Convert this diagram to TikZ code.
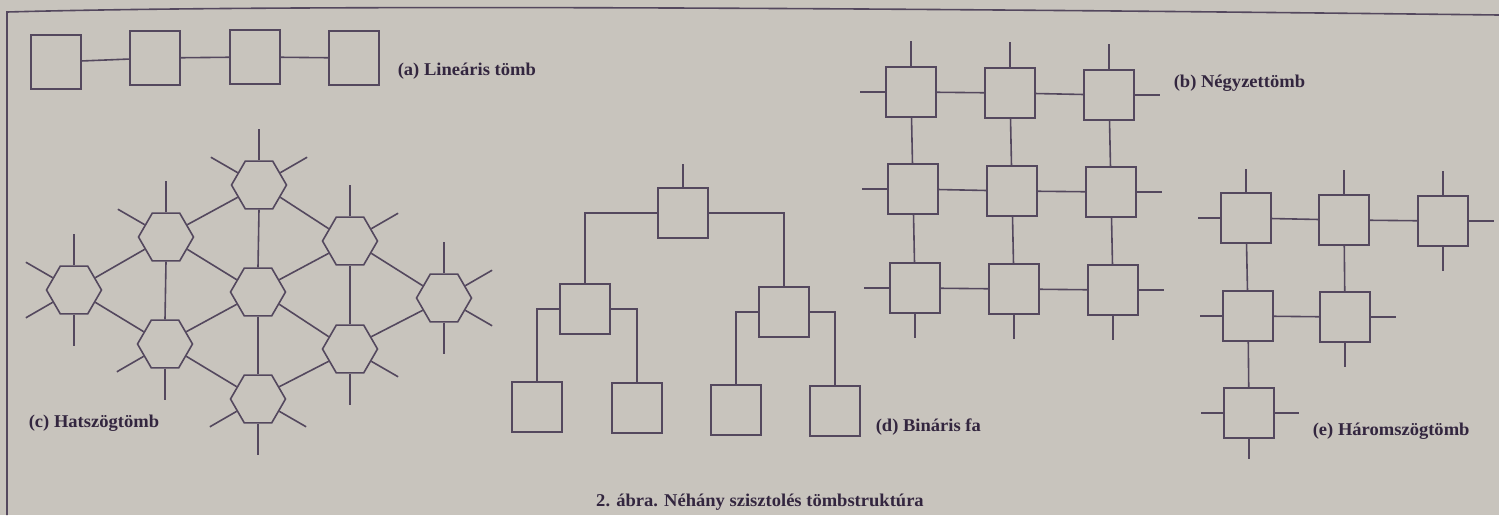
\documentclass[tikz,border=0pt]{standalone}
\usepackage{fontspec}
\setmainfont{Liberation Serif}
\usetikzlibrary{shapes.geometric}
\definecolor{paper}{HTML}{C8C4BD}
\definecolor{ink}{HTML}{54485E}
\definecolor{txt}{HTML}{33263F}
\newcommand{\lab}[1]{\scalebox{1.03}[1]{#1}}
\tikzset{
  sq/.style={draw=ink, line width=1.6pt, minimum width=50pt, minimum height=50pt, inner sep=0pt},
  sqa/.style={sq, minimum height=54pt},
  hex/.style={draw=ink, line width=1.6pt, regular polygon, regular polygon sides=6, minimum size=55pt, inner sep=0pt},
  lbl/.style={anchor=west, inner sep=0pt, text=txt, font=\bfseries\fontsize{18}{20}\selectfont},
  captext/.style={inner sep=0pt, text=txt, font=\bfseries\fontsize{18}{20}\selectfont}
}
\begin{document}
\begin{tikzpicture}[x=1pt, y=-1pt, color=ink, line width=1.6pt]
\fill[paper] (0,0) rectangle (1499,515);
\useasboundingbox (0,0) rectangle (1499,515);
% frame
\draw (7,515) -- (7,12) .. controls (300,4) and (900,8) .. (1499,15);

% (a) linear array
\node[sqa] (a1) at (56,62) {};
\node[sqa] (a2) at (155,58) {};
\node[sqa] (a3) at (255,57) {};
\node[sqa] (a4) at (354,58) {};
\draw (a1) -- (a2) (a2) -- (a3) (a3) -- (a4);
\node[lbl] (la) at (397,71) {\lab{(a) Lineáris tömb}};

% (c) hexagonal array
\node[hex] (T)  at (259,185) {};
\node[hex] (UL) at (166,237) {};
\node[hex] (UR) at (350,241) {};
\node[hex] (L)  at (74,290) {};
\node[hex] (C)  at (258,292) {};
\node[hex] (R)  at (444,298) {};
\node[hex] (LL) at (165,344) {};
\node[hex] (LR) at (350,349) {};
\node[hex] (B)  at (258,399) {};
\draw (T.210) -- (UL.30);
\draw (T.330) -- (UR.150);
\draw (T.270) -- (C.90);
\draw (UL.210) -- (L.30);
\draw (UL.330) -- (C.150);
\draw (UL.270) -- (LL.90);
\draw (UR.210) -- (C.30);
\draw (UR.330) -- (R.150);
\draw (UR.270) -- (LR.90);
\draw (L.330) -- (LL.150);
\draw (C.210) -- (LL.30);
\draw (C.330) -- (LR.150);
\draw (C.270) -- (B.90);
\draw (R.210) -- (LR.30);
\draw (LL.330) -- (B.150);
\draw (LR.210) -- (B.30);
\foreach \n/\a in {T/90,T/30,T/150,UL/90,UL/150,UR/90,UR/30,L/90,L/150,L/210,L/270,R/90,R/30,R/330,R/270,LL/210,LL/270,LR/330,LR/270,B/210,B/270,B/330}
  \draw (\n.\a) -- ++(\a:31pt);
\node[lbl] (lc) at (28,423) {\lab{(c) Hatszögtömb}};

% (d) binary tree
\node[sq] (r)  at (683,213) {};
\node[sq] (c1) at (585,309) {};
\node[sq] (c2) at (784,312) {};
\node[sq] (d1) at (537,407) {};
\node[sq] (d2) at (637,408) {};
\node[sq] (d3) at (736,410) {};
\node[sq] (d4) at (835,411) {};
\draw (r.north) -- ++(0,-23);
\draw (r.west) -| (c1.north);
\draw (r.east) -| (c2.north);
\draw (c1.west) -| (d1.north);
\draw (c1.east) -| (d2.north);
\draw (c2.west) -| (d3.north);
\draw (c2.east) -| (d4.north);
\node[lbl] (ld) at (875,427) {\lab{(d) Bináris fa}};

% (b) square mesh
\node[sq] (m11) at (911,92) {};
\node[sq] (m12) at (1010,93) {};
\node[sq] (m13) at (1109,95) {};
\node[sq] (m21) at (913,189) {};
\node[sq] (m22) at (1012,191) {};
\node[sq] (m23) at (1111,192) {};
\node[sq] (m31) at (915,288) {};
\node[sq] (m32) at (1014,289) {};
\node[sq] (m33) at (1113,290) {};
\foreach \r in {1,2,3}{
  \draw (m\r1) -- (m\r2);
  \draw (m\r2) -- (m\r3);
  \draw (m\r1.west) -- ++(-25,0);
  \draw (m\r3.east) -- ++(25,0);
}
\foreach \c in {1,2,3}{
  \draw (m1\c) -- (m2\c);
  \draw (m2\c) -- (m3\c);
  \draw (m1\c.north) -- ++(0,-25);
  \draw (m3\c.south) -- ++(0,24);
}
\node[lbl] (lb) at (1173,83) {\lab{(b) Négyzettömb}};

% (e) triangular array
\node[sq] (t11) at (1246,218) {};
\node[sq] (t12) at (1344,220) {};
\node[sq] (t13) at (1443,221) {};
\node[sq] (t21) at (1248,316) {};
\node[sq] (t22) at (1345,317) {};
\node[sq] (t31) at (1249,413) {};
\draw (t11) -- (t12);
\draw (t12) -- (t13);
\draw (t21) -- (t22);
\draw (t11) -- (t21);
\draw (t12) -- (t22);
\draw (t21) -- (t31);
\draw (t11.north) -- ++(0,-23);
\draw (t11.west) -- ++(-22,0);
\draw (t12.north) -- ++(0,-24);
\draw (t13.north) -- ++(0,-24);
\draw (t13.east) -- ++(25,0);
\draw (t13.south) -- ++(0,24);
\draw (t21.west) -- ++(-22,0);
\draw (t22.east) -- ++(25,0);
\draw (t22.south) -- ++(0,24);
\draw (t31.west) -- ++(-22,0);
\draw (t31.east) -- ++(24,0);
\draw (t31.south) -- ++(0,20);
\node[lbl] (le) at (1312,431) {\lab{(e) Háromszögtömb}};

% caption
\node[captext] (capt) at (760,502) {\lab{2. ábra. Néhány szisztolés tömbstruktúra}};
\end{tikzpicture}
\end{document}
